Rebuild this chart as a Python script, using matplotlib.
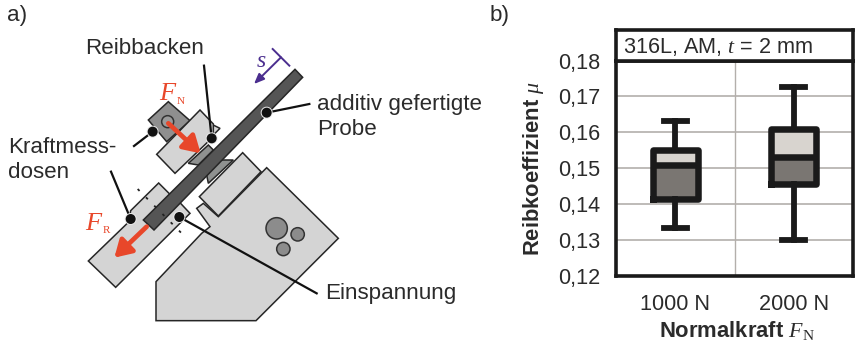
import matplotlib
matplotlib.use('Agg')
import matplotlib.pyplot as plt
from matplotlib.patches import Polygon, Circle

plt.rcParams['font.family'] = ['Liberation Sans', 'DejaVu Sans']
plt.rcParams['mathtext.fontset'] = 'custom'
plt.rcParams['mathtext.it'] = 'Liberation Serif:italic'
plt.rcParams['mathtext.rm'] = 'Liberation Serif'

# boxplot values
categories = ['1000 N', '2000 N']
whisker_low = [0.1333, 0.1300]
box_low = [0.1415, 0.1455]
median = [0.1510, 0.1530]
box_high = [0.1550, 0.1610]
whisker_high = [0.1632, 0.1725]
y_ticks = [0.12, 0.13, 0.14, 0.15, 0.16, 0.17, 0.18]
y_labels = ['0,12', '0,13', '0,14', '0,15', '0,16', '0,17', '0,18']

W, H = 855, 346
ink = '#1a1a1a'
text_c = '#2b2b2b'
grid_c = '#b3afab'
light = '#d4d4d4'
red = '#e8472a'
purple = '#4b2e8f'

fig = plt.figure(figsize=(W / 100, H / 100), dpi=100, facecolor='white')

# left sketch, coordinates are 3x pixels
sk = fig.add_axes([0, 0, 1, 1])
sk.set_xlim(0, W * 3)
sk.set_ylim(H * 3, 0)
sk.axis('off')


def poly(pts, fc, z=2, lw=1.1):
    sk.add_patch(Polygon(pts, closed=True, fc=fc, ec='#262626', lw=lw, zorder=z))


def circ(x, y, r, fc, z=3):
    sk.add_patch(Circle((x, y), r, fc=fc, ec='#333333', lw=1.1, zorder=z))


def leader(x0, y0, x1, y1):
    sk.plot([x0, x1], [y0, y1], color='#111111', lw=1.6, zorder=7)
    sk.add_patch(Circle((x0, y0), 18, fc='#e8e8e8', ec='none', zorder=7.5))
    sk.add_patch(Circle((x0, y0), 15, fc='#111111', ec='none', zorder=8))


poly([(800, 503), (1015, 715), (768, 962), (468, 962), (468, 845), (605, 700), (630, 680),
      (590, 625), (610, 610), (655, 650)], light)
poly([(728, 458), (783, 515), (655, 648), (598, 590)], light, 3)
poly([(620, 525), (655, 480), (700, 480), (625, 550)], '#8f9190', 2)
circ(830, 685, 32, '#8c8c8c')
circ(893, 703, 20, '#8c8c8c')
circ(850, 747, 20, '#8c8c8c')

poly([(265, 783), (387, 665), (392, 632), (476, 549), (510, 583), (537, 605), (570, 640), (347, 862)],
     light, 2)
poly([(600, 345), (625, 368), (660, 385), (640, 405), (600, 380)], light, 2.2)
poly([(470, 463), (600, 330), (640, 372), (640, 410), (525, 520)], light, 3)
poly([(445, 360), (505, 305), (570, 362), (500, 425)], '#8f8f8f', 2.5)
circ(503, 365, 18, '#9a9a9a', 5)
poly([(565, 490), (625, 435), (640, 450), (595, 495)], '#8f9190', 4)
poly([(885, 208), (908, 232), (462, 690), (430, 660)], '#555555', 6)

# dotted centre lines of the clamp
sk.plot([413, 548], [567, 703], color='#222222', lw=1.3, ls=(0, (1.5, 5)), zorder=6.5)

for x0, y0, x1, y1 in [(505, 370, 602, 460), (440, 680, 343, 773)]:
    sk.annotate('', xy=(x1, y1), xytext=(x0, y0), zorder=9,
                arrowprops=dict(arrowstyle='-|>,head_width=0.6,head_length=1.0',
                                color=red, lw=3.4, shrinkA=0, shrinkB=0))

sk.plot([818, 868], [147, 197], color=purple, lw=1.4)
sk.annotate('', xy=(762, 252), xytext=(843, 172),
            arrowprops=dict(arrowstyle='-|>,head_width=0.25,head_length=0.6',
                            color=purple, lw=1.4, shrinkA=0, shrinkB=0))

leader(458, 395, 402, 438)
leader(635, 415, 612, 197)
leader(800, 338, 928, 312)
leader(392, 657, 333, 515)
leader(538, 651, 950, 880)

labels = [('a)', 22, 45), ('Reibbacken', 256, 145), ('additiv gefertigte', 952, 313),
          ('Probe', 952, 388), ('Kraftmess-', 24, 442), ('dosen', 24, 518),
          ('Einspannung', 976, 880)]
for t, x, y in labels:
    sk.text(x, y, t, fontsize=16.1, color=text_c, ha='left', va='center')
sk.text(1470, 45, 'b)', fontsize=16.1, color=text_c, ha='left', va='center')

sk.text(478, 278, r'$F$', fontsize=19, color=red, ha='left', va='center')
sk.text(531, 304, 'N', fontsize=8, color=red, ha='left', va='center', family='Liberation Serif')
sk.text(256, 668, r'$F$', fontsize=19, color=red, ha='left', va='center')
sk.text(309, 692, 'R', fontsize=8, color=red, ha='left', va='center', family='Liberation Serif')
sk.text(768, 183, r'$s$', fontsize=17, color=purple, ha='left', va='center')

# box plot
left, right, top, bottom, head = 616, 853, 60.5, 276, 30
ax = fig.add_axes([left / W, 1 - bottom / H, (right - left) / W, (bottom - top) / H])
ax.set_xlim(-0.5, 1.5)
ax.set_ylim(0.12, 0.18)
ax.set_yticks(y_ticks, y_labels)
ax.set_xticks(range(len(categories)), categories)
ax.tick_params(length=0, labelsize=15.6, labelcolor=text_c)
ax.tick_params(axis='y', pad=11)
ax.tick_params(axis='x', pad=13)
for s in ax.spines.values():
    s.set_linewidth(2.6)
    s.set_color(ink)
ax.set_axisbelow(True)
ax.grid(axis='y', color=grid_c, lw=1.2)
ax.axvline(0.5, color=grid_c, lw=1.0, zorder=0.5)

x = list(range(len(categories)))
ax.bar(x, [m - b for m, b in zip(median, box_low)], 0.38, bottom=box_low, color='#7a7672', zorder=2)
ax.bar(x, [h - m for h, m in zip(box_high, median)], 0.38, bottom=median, color='#d8d4cf', zorder=2)
stats = [dict(whislo=a, q1=b, med=c, q3=d, whishi=e, fliers=[])
         for a, b, c, d, e in zip(whisker_low, box_low, median, box_high, whisker_high)]
ax.bxp(stats, positions=x, widths=0.38, showfliers=False, manage_ticks=False, zorder=3,
       boxprops=dict(color=ink, lw=4.7, solid_joinstyle='round', solid_capstyle='projecting'),
       medianprops=dict(color=ink, lw=4.7, solid_capstyle='butt'),
       whiskerprops=dict(color=ink, lw=4.2),
       capprops=dict(color=ink, lw=4.2), capwidths=0.19)
ax.set_xlim(-0.5, 1.5)

ax.set_ylabel(r'Reibkoeffizient $\mu$', fontsize=15.8, fontweight='bold', color=text_c)
ax.yaxis.set_label_coords((546 - left) / (right - left), 0.5)
sk.text(2210, 992, r'Normalkraft $F_{\mathrm{N}}$', fontsize=15.8, fontweight='bold',
        color=text_c, ha='center', va='center')

# head box above the axes
hd = fig.add_axes([left / W, 1 - top / H, (right - left) / W, (top - head) / H])
hd.set_xticks([])
hd.set_yticks([])
for s in hd.spines.values():
    s.set_linewidth(2.6)
    s.set_color(ink)
hd.text(0.03, 0.45, r'316L, AM, $t$ = 2 mm', transform=hd.transAxes, fontsize=15.6,
        color=text_c, ha='left', va='center')

fig.savefig('out.png', dpi=100)
